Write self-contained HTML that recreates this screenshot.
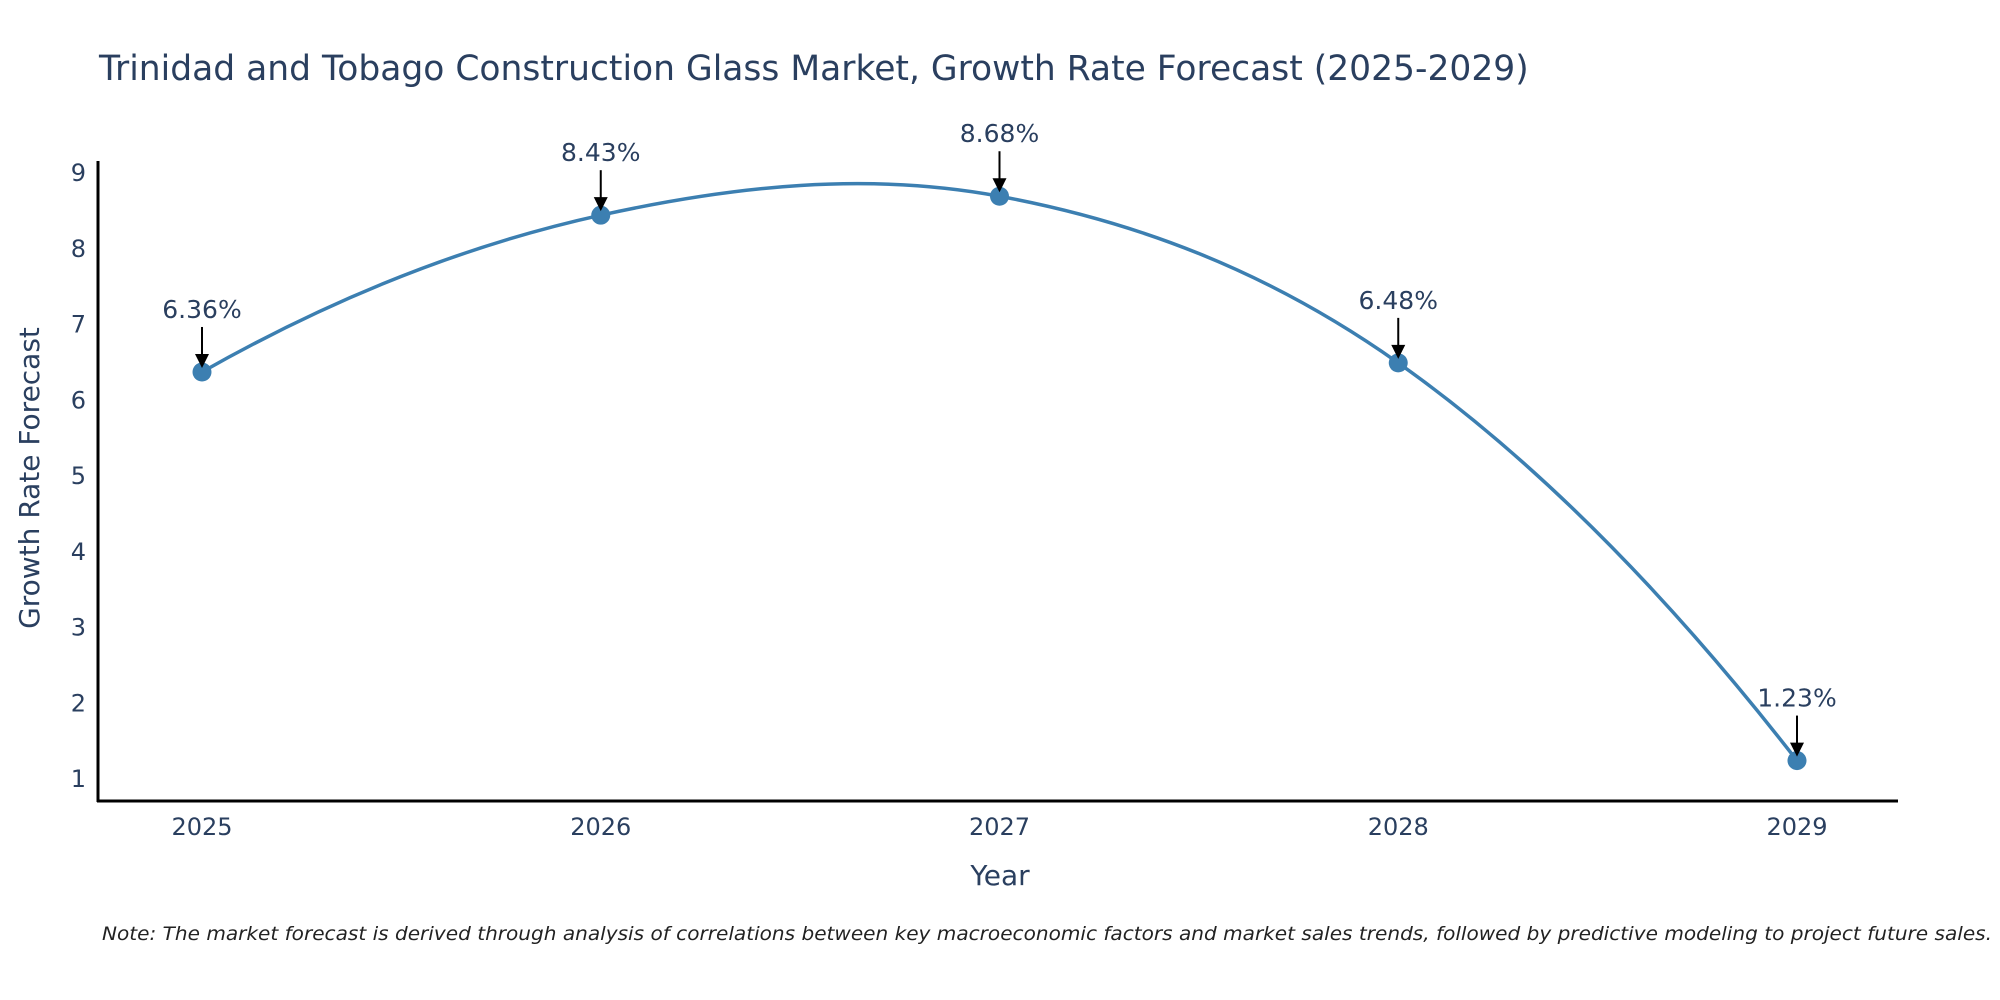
<!DOCTYPE html>
<html><head><meta charset="utf-8"><style>
html,body{margin:0;padding:0;background:#fff;}
svg{display:block;font-family:"DejaVu Sans","Liberation Sans",sans-serif;}
</style></head><body>
<svg id="chart" width="2000" height="1000" viewBox="0 0 2000 1000">
<text x="99" y="80" font-size="34.5" fill="#2a3f5f">Trinidad and Tobago Construction Glass Market, Growth Rate Forecast (2025-2029)</text>
<g id="yticks"></g>
<g id="xticks"></g>
<line x1="98" y1="161" x2="98" y2="802" stroke="#000" stroke-width="3"/>
<line x1="97" y1="801" x2="1898" y2="801" stroke="#000" stroke-width="3"/>
<text x="1000" y="885" font-size="28" fill="#2a3f5f" text-anchor="middle">Year</text>
<text transform="translate(39,478) rotate(-90)" font-size="28" fill="#2a3f5f" text-anchor="middle">Growth Rate Forecast</text>
<g id="series"></g>
<g id="annots"></g>
<text x="102" y="940" font-size="19" font-style="italic" fill="#222" textLength="1890" lengthAdjust="spacingAndGlyphs">Note: The market forecast is derived through analysis of correlations between key macroeconomic factors and market sales trends, followed by predictive modeling to project future sales.</text>
</svg>
<script>
const categories = ["2025","2026","2027","2028","2029"];
const values = [6.36, 8.43, 8.68, 6.48, 1.23];
const yTickLabels = [1,2,3,4,5,6,7,8,9];

const NS="http://www.w3.org/2000/svg";
const xScale = i => 202 + i*398.75;
const yScale = v => 778 - (v-1)*75.75;
function mk(tag, attrs, parent, txt){
  const e=document.createElementNS(NS,tag);
  for(const k in attrs) e.setAttribute(k,attrs[k]);
  if(txt!==undefined) e.textContent=txt;
  parent.appendChild(e); return e;
}
const yt=document.getElementById('yticks');
yTickLabels.forEach(v=>{
  const t=mk('text',{x:86,y:yScale(v)+9,'font-size':24,fill:'#2a3f5f','text-anchor':'end'},yt,String(v));
  
  
});
const xt=document.getElementById('xticks');
categories.forEach((c,i)=>{
  const t=mk('text',{x:xScale(i),y:835,'font-size':24,fill:'#2a3f5f','text-anchor':'middle'},xt,c);
  
  
});
// x-parametrized cubic Hermite (Catmull-Rom) spline
const pts=values.map((v,i)=>[xScale(i),yScale(v)]);
const n=pts.length;
const m=[];
for(let i=0;i<n;i++){
  if(i===0) m.push(0);
  else if(i===n-1) m.push(0);
  else m.push((pts[i+1][1]-pts[i-1][1])/(pts[i+1][0]-pts[i-1][0]));
}
// natural-like ends
m[0]=2*(pts[1][1]-pts[0][1])/(pts[1][0]-pts[0][0]) - m[1];
m[n-1]=2*(pts[n-1][1]-pts[n-2][1])/(pts[n-1][0]-pts[n-2][0]) - m[n-2];
let d=`M${pts[0][0]},${pts[0][1]}`;
for(let i=0;i<n-1;i++){
  const h=(pts[i+1][0]-pts[i][0])/3;
  d+=` C${pts[i][0]+h},${pts[i][1]+m[i]*h} ${pts[i+1][0]-h},${pts[i+1][1]-m[i+1]*h} ${pts[i+1][0]},${pts[i+1][1]}`;
}
const ser=document.getElementById('series');
const line=mk('path',{d:d,fill:'none',stroke:'#3c7fb1','stroke-width':3.5},ser);


pts.forEach((p,i)=>{
  const c=mk('circle',{cx:p[0],cy:p[1],r:9.5,fill:'#3c7fb1'},ser);
  
  
});
const an=document.getElementById('annots');
pts.forEach((p,i)=>{
  const g=mk('g',{},an);
  
  
  mk('line',{x1:p[0],y1:p[1]-45,x2:p[0],y2:p[1]-16,stroke:'#000','stroke-width':2},g);
  mk('polygon',{points:`${p[0]-7},${p[1]-18} ${p[0]+7},${p[1]-18} ${p[0]},${p[1]-4}`,fill:'#000'},g);
  mk('text',{x:p[0],y:p[1]-54,'font-size':25,fill:'#2a3f5f','text-anchor':'middle'},g,values[i].toFixed(2)+'%');
});
</script>
</body></html>
